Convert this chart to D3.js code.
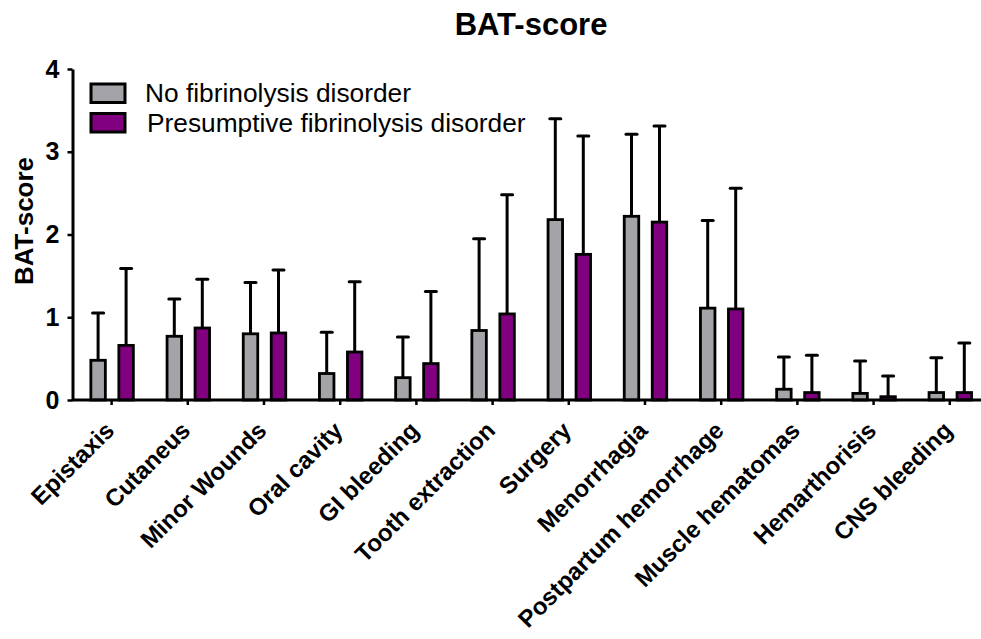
<!DOCTYPE html>
<html>
<head>
<meta charset="utf-8">
<script src="https://cdn.jsdelivr.net/npm/d3@7"></script>
<style>
  body { margin: 0; background: #fff; }
  svg { font-family: "Liberation Sans", Arial, sans-serif; }
</style>
</head>
<body>
<div id="chart"></div>
<script>
const width = 981;
const height = 639;

// data
const categories = ['Epistaxis', 'Cutaneus', 'Minor Wounds', 'Oral cavity', 'GI bleeding',
  'Tooth extraction', 'Surgery', 'Menorrhagia', 'Postpartum hemorrhage',
  'Muscle hematomas', 'Hemarthorisis', 'CNS bleeding'];
const groups = ['No fibrinolysis disorder', 'Presumptive fibrinolysis disorder'];
const noDisorderMean = [0.48, 0.77, 0.80, 0.32, 0.27, 0.84, 2.18, 2.22, 1.11, 0.13, 0.08, 0.09];
const noDisorderErr  = [1.05, 1.22, 1.42, 0.82, 0.76, 1.95, 3.40, 3.21, 2.17, 0.52, 0.47, 0.51];
const presumptiveMean = [0.66, 0.87, 0.81, 0.58, 0.44, 1.04, 1.76, 2.15, 1.10, 0.09, 0.04, 0.09];
const presumptiveErr  = [1.59, 1.46, 1.57, 1.43, 1.31, 2.48, 3.19, 3.31, 2.56, 0.54, 0.29, 0.69];
const yTicks = [0, 1, 2, 3, 4];
const colors = ['#a3a3a8', '#800080'];

const rows = [];
categories.forEach((c, i) => {
  rows.push({ cat: c, group: groups[0], mean: noDisorderMean[i], top: noDisorderErr[i] });
  rows.push({ cat: c, group: groups[1], mean: presumptiveMean[i], top: presumptiveErr[i] });
});

const svg = d3.select('#chart').append('svg')
  .attr('width', width)
  .attr('height', height);

// scales
const x0 = d3.scaleBand().domain(categories).range([73.5, 73.5 + 12 * 76.2]);
const x1 = d3.scalePoint().domain(groups).range([-13.5, 14.5]);
const y = d3.scaleLinear().domain([0, 4]).range([400, 69]);
const color = d3.scaleOrdinal().domain(groups).range(colors);
const barW = 14.5;

// title
svg.append('text')
  .attr('x', 531)
  .attr('y', 35)
  .attr('text-anchor', 'middle')
  .style('font-size', '31px')
  .style('font-weight', 'bold')
  .text('BAT-score');

// y label
svg.append('text')
  .attr('transform', 'translate(33,221) rotate(-90)')
  .attr('text-anchor', 'middle')
  .style('font-size', '26px')
  .style('font-weight', 'bold')
  .text('BAT-score');

// bars
const bar = svg.append('g').selectAll('g')
  .data(rows)
  .join('g')
  .attr('transform', d => 'translate(' + (x0(d.cat) + x0.bandwidth() / 2 + x1(d.group)) + ',0)');

// error bars (upper only)
bar.append('line')
  .attr('x1', 0).attr('x2', 0)
  .attr('y1', d => y(d.mean))
  .attr('y2', d => y(d.top))
  .attr('stroke', '#000')
  .attr('stroke-width', 3);
bar.append('line')
  .attr('x1', -5.5).attr('x2', 5.5)
  .attr('y1', d => y(d.top))
  .attr('y2', d => y(d.top))
  .attr('stroke', '#000')
  .attr('stroke-width', 3)
  .attr('stroke-linecap', 'round');

bar.append('rect')
  .attr('x', -barW / 2)
  .attr('width', barW)
  .attr('y', d => y(d.mean))
  .attr('height', d => y(0) - y(d.mean))
  .attr('fill', d => color(d.group))
  .attr('stroke', '#000')
  .attr('stroke-width', 2.8);

// axes
const xAxis = svg.append('g')
  .attr('transform', 'translate(0,400)')
  .call(d3.axisBottom(x0).tickSize(5).tickSizeOuter(0).tickFormat(''));
xAxis.select('.domain').attr('d', 'M72,0H' + width).attr('stroke-width', 3);
xAxis.selectAll('.tick line').attr('stroke-width', 2.5);

xAxis.selectAll('.tick').append('text')
  .attr('fill', '#000')
  .attr('text-anchor', 'end')
  .attr('transform', 'translate(4,32) rotate(-45)')
  .style('font-size', '24px')
  .style('font-weight', 'bold')
  .text(d => d);

const yAxis = svg.append('g')
  .attr('transform', 'translate(72.5,0)')
  .call(d3.axisLeft(y).tickValues(yTicks).tickFormat(d3.format('d')).tickSize(5).tickSizeOuter(0).tickPadding(8));
yAxis.select('.domain').attr('stroke-width', 3);
yAxis.selectAll('.tick line').attr('stroke-width', 2.5);
yAxis.selectAll('.tick text')
  .attr('fill', '#000')
  .style('font-size', '25px')
  .style('font-weight', 'bold')
  .style('font-family', '"Liberation Sans", Arial, sans-serif');

// legend
const legend = svg.append('g').selectAll('g')
  .data(groups)
  .join('g')
  .attr('transform', (d, i) => 'translate(91,' + (84 + i * 29.5) + ')');
legend.append('rect')
  .attr('width', 34)
  .attr('height', 18.5)
  .attr('fill', d => color(d))
  .attr('stroke', '#000')
  .attr('stroke-width', 3);
legend.append('text')
  .attr('x', (d, i) => 54 + i * 2)
  .attr('y', 18)
  .style('font-size', '26.3px')
  .text(d => d);
</script>
</body>
</html>
